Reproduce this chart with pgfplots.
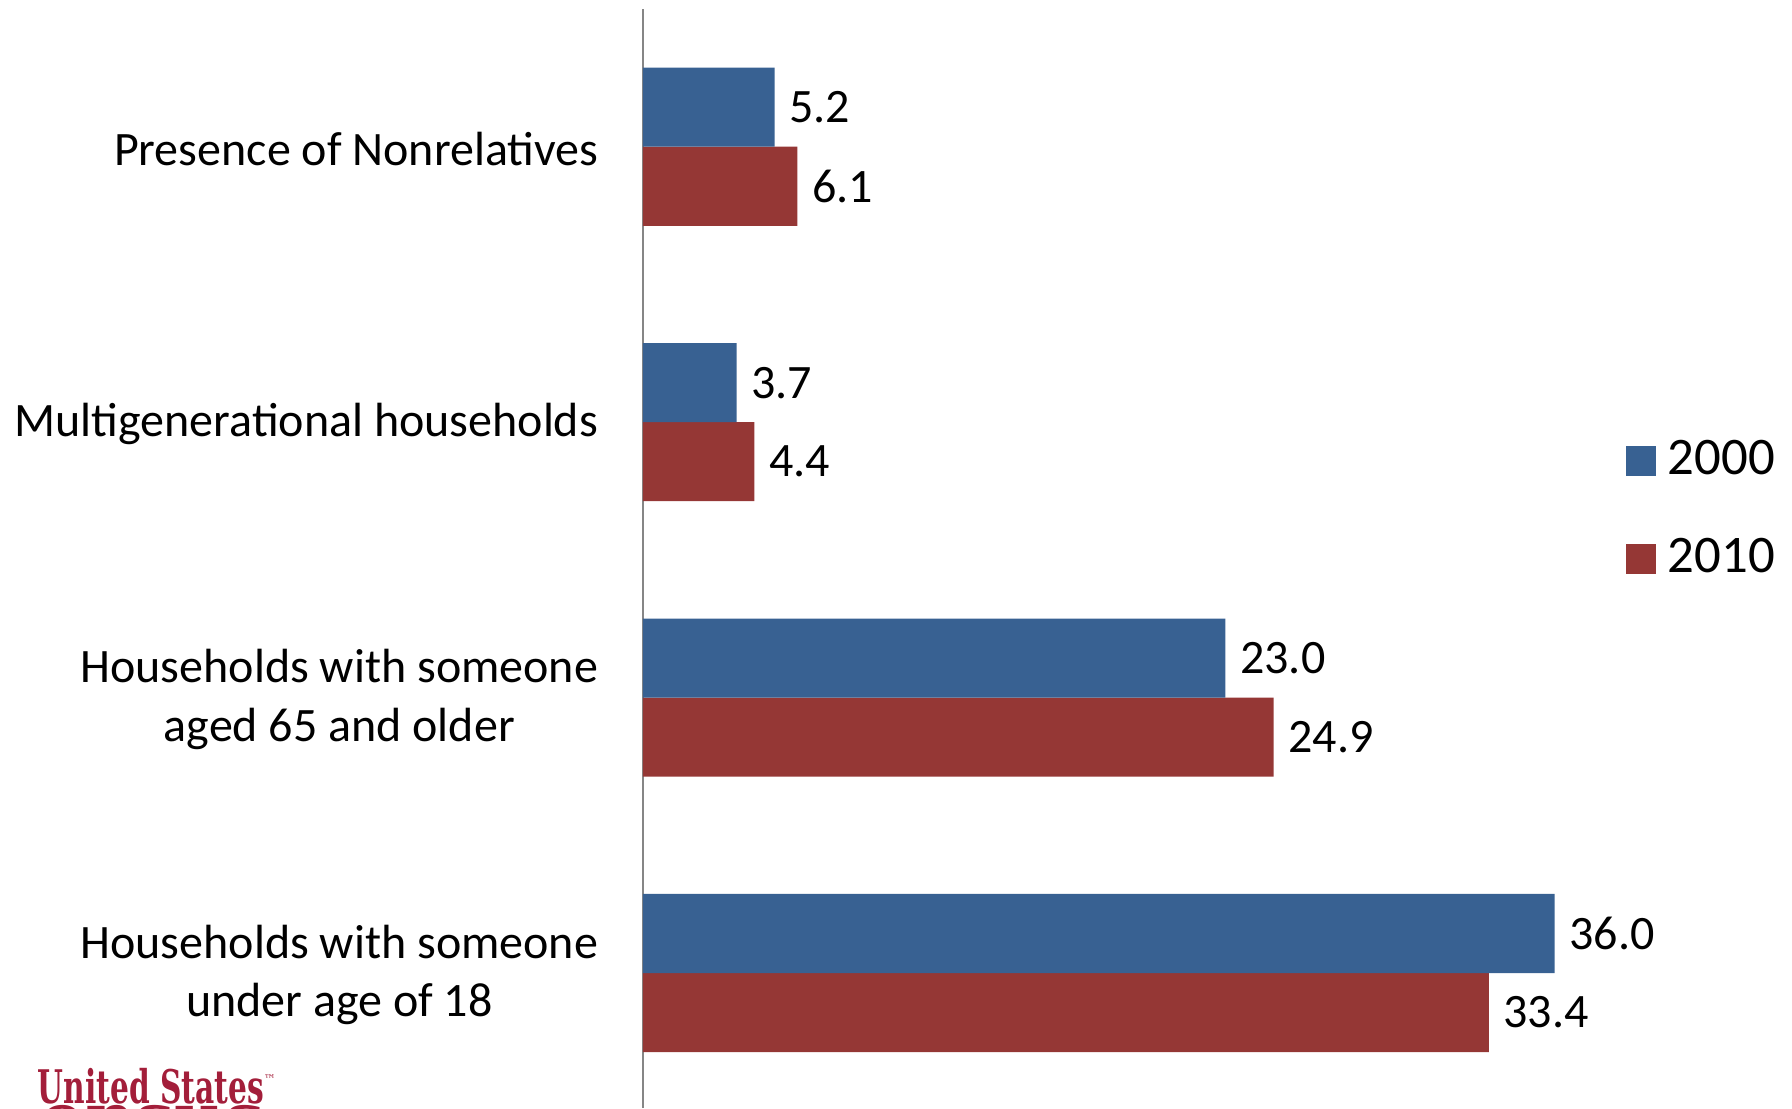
\documentclass[border=0pt]{standalone}
\usepackage{pgfplots}
\pgfplotsset{compat=1.18}
\usepackage{fontspec}
\setmainfont{Carlito}
\newfontfamily\logofont{DejaVu Serif}
\definecolor{blueA}{RGB}{56,97,146}
\definecolor{redA}{RGB}{149,55,53}
\definecolor{axisgray}{RGB}{134,134,134}
\definecolor{logored}{RGB}{163,30,58}
\begin{document}
\begin{tikzpicture}
\useasboundingbox (0,0) rectangle (448pt,277pt);
\begin{axis}[
  at={(160.75pt,0pt)}, anchor=south west,
  scale only axis, width=253.25pt, height=274.75pt,
  xmin=0, xmax=40, ymin=-0.49, ymax=3.5,
  xbar=0pt, bar width=0.287,
  axis y line*=left, axis x line=none,
  y axis line style={draw=axisgray, line width=0.5pt},
  ytick={0,1,2,3},
  yticklabels={{Households with someone\\under age of 18},{Households with someone\\aged 65 and older},{Multigenerational households},{Presence of Nonrelatives}},
  yticklabel style={align=center, font=\fontsize{12}{14.6}\selectfont, inner sep=0pt, xshift=-11pt, yshift=-0.5pt},
  major tick length=0pt,
  xtick=\empty,
  clip=false,
  /pgf/number format/assume math mode=true,
  point meta=x,
  nodes near coords={\pgfmathprintnumber[fixed,fixed zerofill,precision=1,assume math mode=true]{\pgfplotspointmeta}},
  nodes near coords style={anchor=west, inner sep=0pt, xshift=3.5pt, font=\fontsize{12}{14}\selectfont, text=black},
  legend image code/.code={\fill[#1] (0pt,-3.75pt) rectangle (7.5pt,3.75pt);},
  legend style={draw=none, fill=none, inner sep=0pt, outer sep=0pt,
    font=\fontsize{13.2}{15}\selectfont, row sep=14.4pt, column sep=3pt,
    nodes={inner sep=0pt},
    at={(0.9704,0.5445)}, anchor=west},
  legend cell align=left,
  reverse legend,
]
\addplot[fill=redA, draw=none] coordinates {(33.4,0) (24.9,1) (4.4,2) (6.1,3)};
\addlegendentry{2010}
\addplot[fill=blueA, draw=none] coordinates {(36.0,0) (23.0,1) (3.7,2) (5.2,3)};
\addlegendentry{2000}
\end{axis}
\node[anchor=base west, inner sep=0pt, text=logored] at (9.25pt,1.25pt)
  {\resizebox{56.5pt}{8.8pt}{\logofont\bfseries\fontsize{12}{12}\selectfont United States}\raisebox{5pt}{\logofont\fontsize{3}{3}\selectfont ™}};
\node[anchor=north west, inner sep=0pt, text=logored] at (10pt,0.9pt)
  {\resizebox{56pt}{!}{\logofont\bfseries\fontsize{24}{24}\selectfont ensus}};
\end{tikzpicture}
\end{document}
